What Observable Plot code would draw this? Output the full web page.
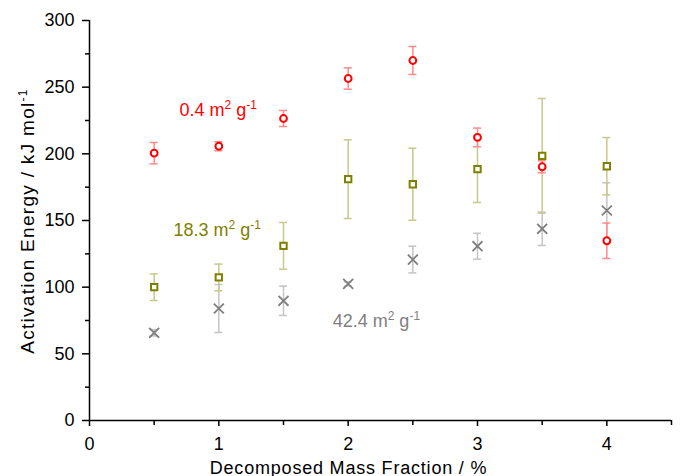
<!DOCTYPE html>
<html>
<head>
<meta charset="utf-8">
<script src="https://cdn.jsdelivr.net/npm/d3@7"></script>
<script src="https://cdn.jsdelivr.net/npm/@observablehq/plot@0.6"></script>
<style>
  html, body { margin: 0; padding: 0; background: #fff; }
  #chart svg { display: block; }
</style>
</head>
<body>
<div id="chart"></div>
<script>
// Decomposed mass fraction (%)
const massFraction = [0.5, 1, 1.5, 2, 2.5, 3, 3.5, 4];

// 0.4 m2/g series
const ea04 = [200.5, 205.7, 226.5, 256.5, 270.0, 212.3, 190.3, 134.8];
const err04 = [8, 3.4, 6, 8, 10.5, 7, 4.5, 13.3];

// 18.3 m2/g series
const ea183 = [100.0, 107.3, 131.0, 181.0, 177.2, 188.5, 198.5, 190.7];
const err183 = [10, 10, 17.5, 29.5, 27, 25, 43, 21.5];

// 42.4 m2/g series
const ea424 = [65.8, 84.0, 89.8, 102.5, 120.7, 130.7, 143.8, 157.5];
const err424 = [2.4, 18, 11, 1.5, 10, 9.7, 12.5, 20.8];

const seriesLabels = ["0.4 m^{2} g^{-1}", "18.3 m^{2} g^{-1}", "42.4 m^{2} g^{-1}"];
const yTicks = [0, 50, 100, 150, 200, 250, 300];
const yMinorTicks = [25, 75, 125, 175, 225, 275];
const xTicks = [0, 1, 2, 3, 4];
const xMinorTicks = [0.5, 1.5, 2.5, 3.5, 4.5];
const xTitle = "Decomposed Mass Fraction / %";
const yTitle = "Activation Energy / kJ mol^{-1}";

const rows = (ys, es) => massFraction.map((x, i) => ({x, y: ys[i], lo: ys[i] - es[i], hi: ys[i] + es[i]}));
const s04 = rows(ea04, err04);
const s183 = rows(ea183, err183);
const s424 = rows(ea424, err424);

const cap = 0.031; // half cap width in x units

function errorMarks(data, color) {
  return [
    Plot.ruleX(data, {x: "x", y1: "lo", y2: "hi", stroke: color, strokeWidth: 1.5}),
    Plot.ruleY(data, {y: "lo", x1: d => d.x - cap, x2: d => d.x + cap, stroke: color, strokeWidth: 1.5}),
    Plot.ruleY(data, {y: "hi", x1: d => d.x - cap, x2: d => d.x + cap, stroke: color, strokeWidth: 1.5})
  ];
}

const font = "Arial, 'Liberation Sans', sans-serif";

const chart = Plot.plot({
  width: 680,
  height: 476,
  marginLeft: 89,
  marginRight: 9,
  marginTop: 20,
  marginBottom: 56,
  style: {fontFamily: font, fontSize: "18px", background: "#fff", color: "#000", overflow: "visible"},
  x: {domain: [0, 4.5], label: null},
  y: {domain: [0, 300], label: null},
  marks: [
    Plot.axisY({ticks: yTicks, tickSize: 7, tickPadding: 8, label: null, fontSize: 18, strokeWidth: 1.5, tickFormat: d3.format("d")}),
    Plot.axisY({ticks: yMinorTicks, tickSize: 4, tickFormat: () => "", label: null, strokeWidth: 1.5}),
    Plot.axisX({ticks: xTicks, tickSize: 6, tickPadding: 11, label: null, fontSize: 18, strokeWidth: 1.5, tickFormat: d3.format("d")}),
    Plot.axisX({ticks: xMinorTicks, tickSize: 5, tickFormat: () => "", label: null, strokeWidth: 1.5}),
    Plot.ruleX([0], {stroke: "#000", strokeWidth: 1.5}),
    Plot.ruleY([0], {stroke: "#000", strokeWidth: 1.5}),

    ...errorMarks(s424, "#c4c4c4"),
    Plot.dot(s424, {x: "x", y: "y", symbol: "times", r: 4.6, stroke: "#7f7f7f", strokeWidth: 1.8}),

    ...errorMarks(s183, "#c8c88c"),
    Plot.dot(s183, {x: "x", y: "y", symbol: "square", r: 3.6, stroke: "#808000", fill: "#fff", strokeWidth: 2}),

    ...errorMarks(s04, "#ff8a8a"),
    Plot.dot(s04, {x: "x", y: "y", symbol: "circle", r: 3.4, stroke: "#ff0000", fill: "#fff", strokeWidth: 2}),

    Plot.text([seriesLabels[0]], {x: 0.696, y: 228.7, text: d => d, textAnchor: "start", lineAnchor: "bottom", fill: "#ff0000", fontSize: 18}),
    Plot.text([seriesLabels[1]], {x: 0.65, y: 138.7, text: d => d, textAnchor: "start", lineAnchor: "bottom", fill: "#808000", fontSize: 18}),
    Plot.text([seriesLabels[2]], {x: 1.88, y: 70, text: d => d, textAnchor: "start", lineAnchor: "bottom", fill: "#808080", fontSize: 18}),

    Plot.text([xTitle], {frameAnchor: "bottom", dy: 53, dx: -32, lineAnchor: "bottom", fill: "#000", fontSize: 18}),
    Plot.text([{t: yTitle, y: 50}], {y: "y", text: "t", frameAnchor: "left", dx: -62, rotate: -90, textAnchor: "start", lineAnchor: "middle", fill: "#000", fontSize: 19})
  ]
});

// Render ^{...} as superscript tspans
d3.select(chart).selectAll("text").each(function() {
  const t = this.textContent;
  if (t === xTitle) { this.style.letterSpacing = "0.8px"; return; }
  if (!t.includes("^{")) return;
  if (t === yTitle) this.style.letterSpacing = "1.3px";
  const parts = t.split(/(\^\{[^}]*\})/).filter(p => p.length);
  this.textContent = "";
  let raised = false;
  for (const p of parts) {
    const ts = document.createElementNS("http://www.w3.org/2000/svg", "tspan");
    if (p.startsWith("^{")) {
      ts.textContent = p.slice(2, -1);
      ts.setAttribute("font-size", "12");
      ts.setAttribute("dy", "-7");
      raised = true;
    } else {
      ts.textContent = p;
      if (raised) { ts.setAttribute("dy", "7"); raised = false; }
    }
    this.appendChild(ts);
  }
});

document.getElementById("chart").appendChild(chart);
</script>
</body>
</html>
